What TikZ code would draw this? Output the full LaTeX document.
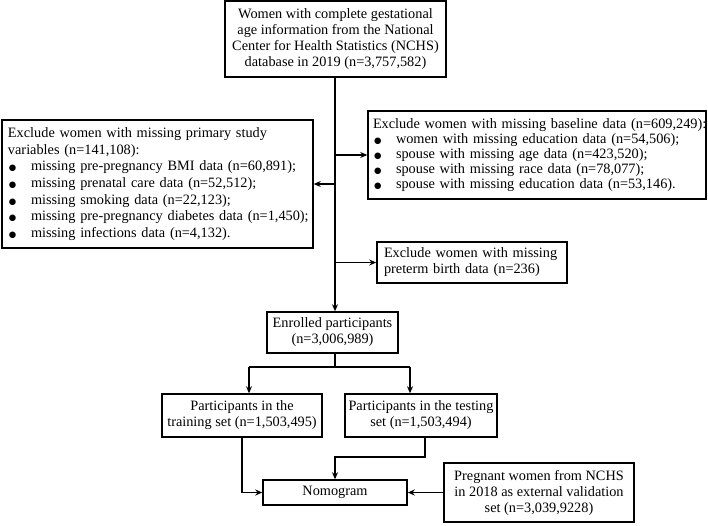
\documentclass[tikz,border=0pt]{standalone}
\usepackage{fontspec}
\setmainfont{Liberation Serif}
\newfontfamily\dejavu{DejaVu Sans}
\usetikzlibrary{arrows.meta}
\newcommand{\bitem}[1]{\mbox{\makebox[23pt][l]{\hspace{1pt}{\dejavu\fontsize{8.5}{8.5}\selectfont ●}}#1}}
\begin{document}
\begin{tikzpicture}[x=1pt,y=-1pt,
  box/.style={draw, line width=1.5pt, inner sep=0pt, align=center,
    font=\fontsize{14.3}{16}\selectfont},
  lbox/.style={box, align=left, anchor=center},
  arr/.style={line width=1.5pt, -{Stealth[length=7pt,width=6pt]}},
  ln/.style={line width=1.5pt}]
\useasboundingbox (0,0) rectangle (708,525);

\node[box, minimum width=221pt, minimum height=76pt] (top) at (335.5,39)
  {Women with complete gestational\\age information from the National\\Center for Health Statistics (NCHS)\\database in 2019 (n=3,757,582)};

\node[lbox, inner xsep=6pt, text width=299pt, minimum height=128pt,
      font=\fontsize{14.3}{16.6}\selectfont] (left) at (157.5,184)
  {\mbox{Exclude women with missing primary study}\\variables (n=141,108):\\
   \bitem{missing pre-pregnancy BMI data (n=60,891);}\\
   \bitem{missing prenatal care data (n=52,512);}\\
   \bitem{missing smoking data (n=22,123);}\\
   \bitem{missing pre-pregnancy diabetes data (n=1,450);}\\
   \bitem{missing infections data (n=4,132).}};

\node[lbox, inner xsep=5pt, text width=328pt, minimum height=88pt,
      font=\fontsize{14.3}{15.2}\selectfont] (right) at (537,155)
  {\mbox{Exclude women with missing baseline data (n=609,249):}\\
   \bitem{women with missing education data (n=54,506);}\\
   \bitem{spouse with missing age data (n=423,520);}\\
   \bitem{spouse with missing race data (n=78,077);}\\
   \bitem{spouse with missing education data (n=53,146).}};

\node[lbox, inner xsep=7pt, text width=176pt, minimum height=41pt] (pre) at (472,262.5)
  {\mbox{Exclude women with missing}\\preterm birth data (n=236)};

\node[box, minimum width=131pt, minimum height=41pt] (enr) at (332.5,332.5)
  {Enrolled participants\\(n=3,006,989)};

\node[box, minimum width=160pt, minimum height=43pt] (train) at (242,415.5)
  {Participants in the\\training set (n=1,503,495)};

\node[box, minimum width=152pt, minimum height=43pt] (test) at (421,415.5)
  {Participants in the testing\\set (n=1,503,494)};

\node[box, minimum width=144pt, minimum height=25pt] (nomo) at (335,492.5)
  {Nomogram};

\node[box, minimum width=190pt, minimum height=59pt] (ext) at (539,492.5)
  {Pregnant women from NCHS\\in 2018 as external validation\\set (n=3,039,9228)};

\coordinate (tx) at (335,0);
\coordinate (sl) at (249,367);
\coordinate (sr) at (410,367);
\coordinate (tb) at (425,457);

\draw[arr] (top.south -| tx) -- (enr.north -| tx);
\draw[arr] (tx |- left.east) -- (left.east);
\draw[arr] (tx |- right.west) -- (right.west);
\draw[arr] (tx |- pre.west) -- (pre.west);

\draw[ln] (enr.south -| tx) -- (tx |- sl);
\draw[ln] (sl) -- (sr);
\draw[arr] (sl) -- (train.north -| sl);
\draw[arr] (sr) -- (test.north -| sr);

\draw[arr] (train.south) |- (nomo.west);
\draw[arr] (test.south -| tb) -- (tb) -| (nomo.north);
\draw[arr] (ext.west) -- (nomo.east);
\end{tikzpicture}
\end{document}
